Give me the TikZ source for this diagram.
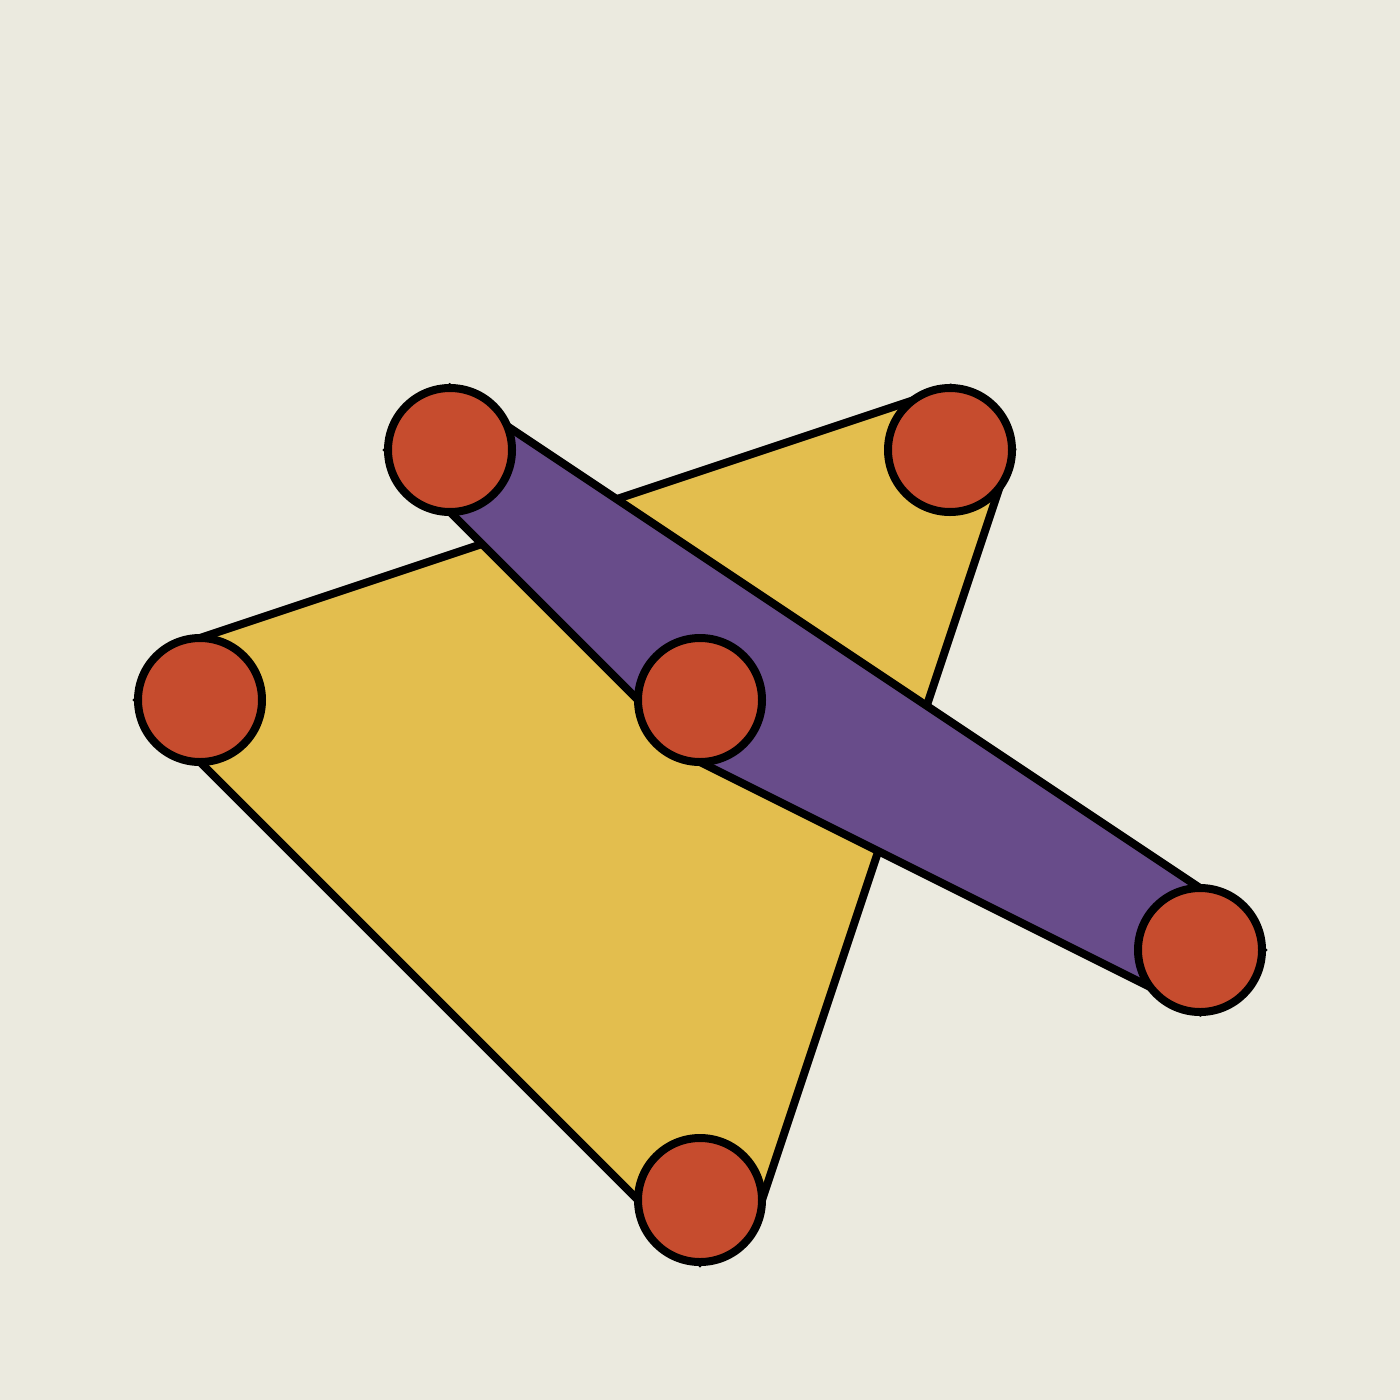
\documentclass[tikz,border=0pt]{standalone}
\usetikzlibrary{backgrounds}
\definecolor{bgc}{RGB}{235,234,223}
\definecolor{yel}{RGB}{227,190,78}
\definecolor{pur}{RGB}{104,76,138}
\definecolor{red}{RGB}{198,76,46}
\tikzset{
  dot/.style={circle, draw=black, fill=red, line width=0.08cm, minimum size=1.24cm, inner sep=0pt, outer sep=0pt},
  hullY/.style={draw=black, fill=yel, line width=0.08cm},
  hullP/.style={draw=black, fill=pur, line width=0.08cm}
}
\begin{document}
\begin{tikzpicture}
\useasboundingbox (0,0) rectangle (14,-14);
\node[dot] (d) at (2,-7) {};
\node[dot] (e) at (9.5,-4.5) {};
\node[dot] (f) at (7,-12) {};
\node[dot] (a) at (4.5,-4.5) {};
\node[dot] (b) at (7,-7) {};
\node[dot] (c) at (12,-9.5) {};
\begin{scope}[on background layer]
\fill[bgc] (0,0) rectangle (14,-14);
\draw[hullY] (d.west) -- (d.north) -- (e.north) -- (e.east) -- (f.east) -- (f.south) -- (f.west) -- (d.south) -- cycle;
\draw[hullP] (a.west) -- (a.north) -- (c.north) -- (c.east) -- (c.south) -- (b.south) -- (b.west) -- (a.south) -- cycle;
\end{scope}
\end{tikzpicture}
\end{document}
